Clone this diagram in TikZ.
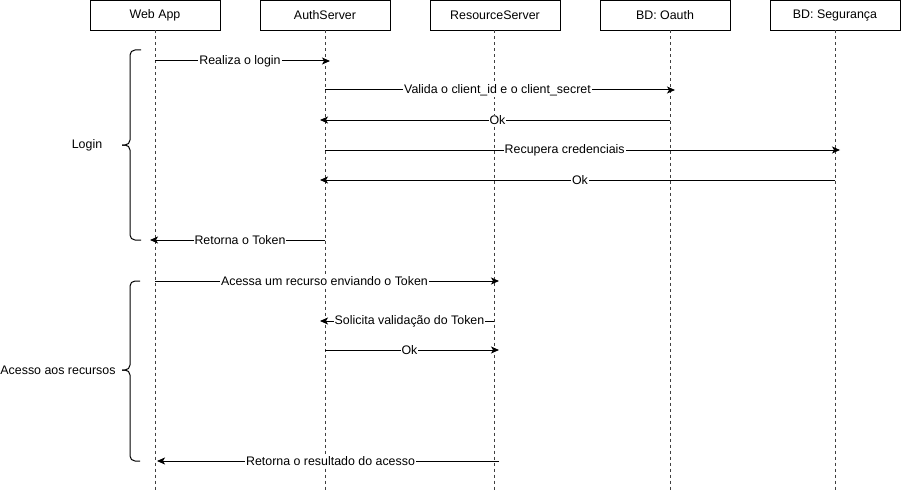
\documentclass[tikz,border=0pt]{standalone}
\usepackage{fontspec}
\setmainfont{Liberation Sans}
\usetikzlibrary{arrows.meta, positioning, calc}

\tikzset{
	actor/.style={draw, line width=1pt, minimum width=130pt, minimum height=30pt, inner sep=0pt, outer sep=0pt},
	lifeline/.style={black!75, line width=1pt, dash pattern=on 3pt off 3pt},
	msg/.style={line width=1pt, -{Stealth[length=8pt, width=7pt, inset=2pt]}, shorten >=-5pt},
	msglabel/.style={fill=white, inner sep=1pt, yshift=-0.5pt},
	sidebrace/.style={line width=1pt, rounded corners=5pt},
}

\begin{document}
\begin{tikzpicture}[x=1pt, y=-1pt, font=\fontsize{12.4pt}{14pt}\selectfont]
			\useasboundingbox (0,0) rectangle (901,492);

			% participants
			\node [actor] (web) at (155,15.5) {Web App};
			\node [actor, right=40pt of web] (auth) {AuthServer};
			\node [actor, right=40pt of auth] (res) {ResourceServer};
			\node [actor, right=40pt of res] (oauth) {BD: Oauth};
			\node [actor, right=40pt of oauth] (seg) {BD: Segurança};

			% lifelines
			\foreach \n/\dx in {web/0, auth/0, res/-1, oauth/5, seg/0} {
				\coordinate (\n-top) at ([xshift=\dx pt]\n.south);
				\coordinate (\n-bot) at (\n-top |- 0,492);
				\draw [lifeline] (\n-top) -- (\n-bot);
			}

			% login
			\begin{scope}
				\draw [msg] (web-top |- 0,61) -- node [msglabel] {Realiza o login} (auth-top |- 0,61);
				\draw [msg] (auth-top |- 0,90) -- node [msglabel] {Valida o client\_id e o client\_secret} (oauth-top |- 0,90);
				\draw [msg] (oauth-top |- 0,120) -- node [msglabel] {Ok} (auth-top |- 0,120);
				\draw [msg] (auth-top |- 0,150) -- node [msglabel, pos=0.47] {Recupera credenciais} (seg-top |- 0,150);
				\draw [msg] (seg-top |- 0,180) -- node [msglabel] {Ok} (auth-top |- 0,180);
				\draw [msg] (auth-top |- 0,240) -- node [msglabel] {Retorna o Token} (web-top |- 0,240);
			\end{scope}

			% acesso aos recursos
			\begin{scope}
				\draw [msg] (web-top |- 0,281) -- node [msglabel] {Acessa um recurso enviando o Token} (res-top |- 0,281);
				\draw [msg] (res-top |- 0,321) -- node [msglabel] {Solicita validação do Token} (auth-top |- 0,321);
				\draw [msg] (auth-top |- 0,350) -- node [msglabel] {Ok} (res-top |- 0,350);
				\draw [msg] ($(res-top |- 0,461)+(5,0)$) -- node [msglabel] {Retorna o resultado do acesso} ($(web-top |- 0,461)+(7,0)$);
			\end{scope}

			% braces
			\begin{scope}[sidebrace]
				\draw (141,50) -- (130,50) -- (130,145) -- (122,145);
				\draw (122,145) -- (130,145) -- (130,240) -- (141,240);
				\draw (140,281) -- (130,281) -- (130,370) -- (122,370);
				\draw (122,370) -- (130,370) -- (130,461) -- (140,461);
			\end{scope}
			\node (login) at (87,145) {Login};
			\node (acesso) at (58,370) {Acesso aos recursos};
		\end{tikzpicture}
\end{document}
